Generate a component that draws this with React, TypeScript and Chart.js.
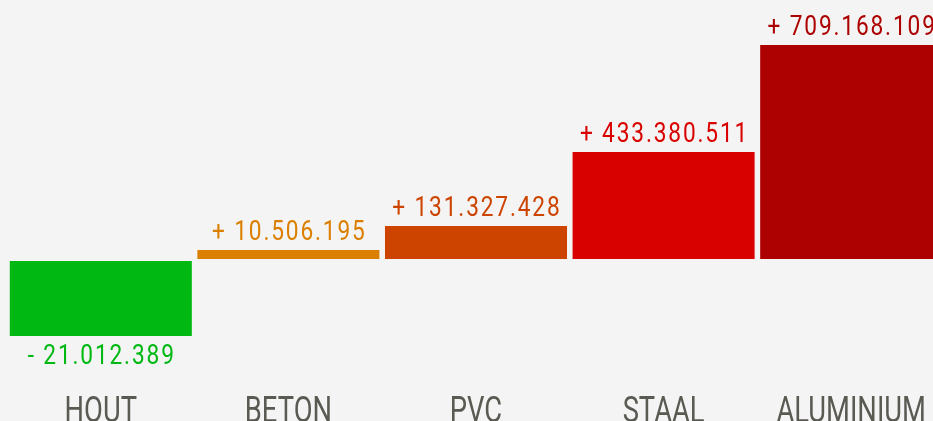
import React, { useEffect, useRef } from "react";
import { Chart, registerables } from "chart.js";

Chart.register(...registerables);

const categories = ["HOUT", "BETON", "PVC", "STAAL", "ALUMINIUM"];
// displayed change values (labels on the bars)
const changeValues = [-21012389, 10506195, 131327428, 433380511, 709168109];
// plotted bar heights (relative, as drawn in the picture)
const barHeights = [-77, 11, 35, 109, 216];
const barColors = ["#00b812", "#db7f00", "#cc4400", "#d90000", "#ad0000"];
const labelColors = ["#00b812", "#db7f00", "#cc4400", "#d90000", "#ad0000"];

const BG = "#f4f4f4";

function formatValue(v: number): string {
  const sign = v < 0 ? "-" : "+";
  const s = Math.abs(v).toString().replace(/\B(?=(\d{3})+(?!\d))/g, ".");
  return sign + " " + s;
}

function drawScaledText(
  ctx: CanvasRenderingContext2D,
  text: string,
  x: number,
  y: number,
  font: string,
  color: string,
  sx: number,
  spacing: number
) {
  ctx.save();
  ctx.translate(x, y);
  ctx.scale(sx, 1);
  ctx.font = font;
  (ctx as any).letterSpacing = spacing + "px";
  ctx.fillStyle = color;
  ctx.textAlign = "center";
  ctx.textBaseline = "alphabetic";
  ctx.fillText(text, spacing / 2, 0);
  ctx.restore();
}

const labelPlugin = {
  id: "barLabels",
  afterDatasetsDraw(chart: any) {
    const ctx = chart.ctx as CanvasRenderingContext2D;
    const meta = chart.getDatasetMeta(0);
    meta.data.forEach((bar: any, i: number) => {
      const v = changeValues[i];
      const txt = formatValue(v);
      const y = barHeights[i] >= 0 ? bar.y - 9 : bar.y + 27;
      drawScaledText(ctx, txt, bar.x, y, "400 27px Roboto", labelColors[i], 0.84, 2.2);
    });
    const xs = chart.scales.x;
    categories.forEach((c, i) => {
      const x = xs.getPixelForTick(i);
      drawScaledText(ctx, c, x, chart.chartArea.bottom + 1, "400 36px Roboto", "#5a5a53", 0.76, 0);
    });
  },
};

export default function App() {
  const ref = useRef<HTMLCanvasElement | null>(null);
  useEffect(() => {
    if (!ref.current) return;
    const chart = new Chart(ref.current, {
      type: "bar",
      data: {
        labels: categories,
        datasets: [
          {
            data: barHeights,
            backgroundColor: barColors,
            borderColor: BG,
            borderWidth: 1,
            borderSkipped: false,
            barPercentage: 0.981,
            categoryPercentage: 1,
          },
        ],
      },
      options: {
        animation: false,
        responsive: false,
        devicePixelRatio: 1,
        events: [],
        layout: { padding: 0 },
        plugins: {
          legend: { display: false },
          tooltip: { enabled: false },
          title: { display: false },
        },
        scales: {
          x: { display: false, offset: true },
          y: { display: false, min: -161, max: 252 },
        },
      },
      plugins: [labelPlugin],
    });
    return () => chart.destroy();
  }, []);
  return (
    <div
      style={{
        position: "fixed",
        inset: 0,
        overflow: "hidden",
        background: BG,
      }}
    >
      <canvas
        ref={ref}
        width={938}
        height={413}
        style={{ position: "absolute", left: 7, top: 8, display: "block", width: 938, height: 413 }}
      />
    </div>
  );
}
